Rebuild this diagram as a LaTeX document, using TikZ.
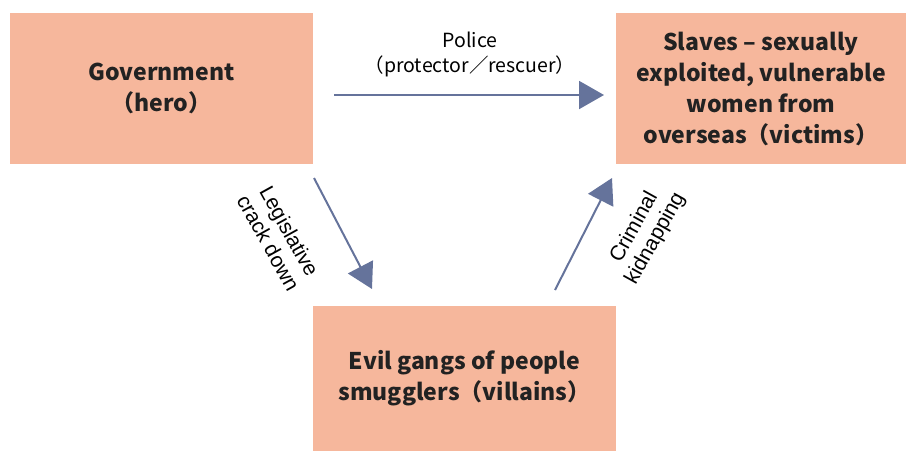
\documentclass[tikz,border=0pt]{standalone}
\usepackage{fontspec}
\setmainfont{Noto Sans CJK SC}
\newfontfamily\arialfont{Liberation Sans}
\usetikzlibrary{arrows.meta}

\definecolor{boxfill}{HTML}{F6B79C}
\definecolor{arrowblue}{HTML}{65739B}
\definecolor{textdark}{HTML}{222222}

\begin{document}
\begin{tikzpicture}[x=1pt, y=-1pt,
  role/.style = {fill=boxfill, inner sep=0pt, align=center, text=textdark,
    font=\fontsize{23}{31}\selectfont\bfseries},
  link/.style = {draw=arrowblue, line width=2pt,
    -{Triangle[length=25pt, width=28pt]}},
  lbl/.style = {text=black, align=center, font=\fontsize{19.5}{25}\selectfont},
  side/.style = {lbl, font=\arialfont\fontsize{21}{24}\selectfont}]
\useasboundingbox (0,0) rectangle (906,451);

\node[role, minimum width=303pt, minimum height=151pt] (G) at (161.5,88.5) {Government\\（hero）};
\node[role, minimum width=290pt, minimum height=151pt] (S) at (761,88.5) {Slaves – sexually\\exploited, vulnerable\\women from\\overseas（victims）};
\node[role, minimum width=303pt, minimum height=145pt] (E) at (464.5,378.5) {Evil gangs of people\\smugglers（villains）};

\coordinate (p1) at (334,95);
\coordinate (p2) at (604,95);
\coordinate (l1) at (314,178);
\coordinate (l2) at (372,289);
\coordinate (c1) at (555,290);
\coordinate (c2) at (612,178);

\draw[link] (p1) to (p2);
\draw[link] (l1) to (l2);
\draw[link] (c1) to (c2);

\node[lbl] (police) at (470,54) {Police\\（protector／rescuer）};
\node[side, rotate=-61] (legis) at (279,237) {Legislative\\crack down};
\node[side, rotate=61] (crim) at (645,233) {Criminal\\kidnapping};

\end{tikzpicture}
\end{document}
